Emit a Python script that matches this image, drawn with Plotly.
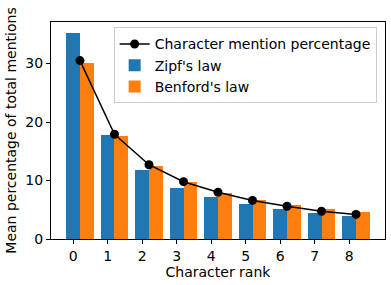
import plotly.graph_objects as go

ranks = [0, 1, 2, 3, 4, 5, 6, 7, 8]
mention_pct = [30.5, 17.9, 12.7, 9.8, 8.0, 6.6, 5.6, 4.75, 4.2]
zipf = [35.3, 17.7, 11.8, 8.8, 7.1, 5.9, 5.05, 4.4, 3.9]
benford = [30.1, 17.6, 12.5, 9.7, 7.9, 6.7, 5.8, 5.1, 4.6]

font = "DejaVu Sans"
fig = go.Figure()
fig.add_trace(go.Bar(x=ranks, y=zipf, width=0.4, offset=-0.2, name="Zipf's law",
                     marker=dict(color="#1f77b4", line=dict(width=0)), legendrank=2))
fig.add_trace(go.Bar(x=ranks, y=benford, width=0.4, offset=0.2, name="Benford's law",
                     marker=dict(color="#ff7f0e", line=dict(width=0)), legendrank=3))
fig.add_trace(go.Scatter(x=[r + 0.2 for r in ranks], y=mention_pct, mode="lines+markers",
                         name="Character mention percentage",
                         line=dict(color="black", width=1.5),
                         marker=dict(color="black", size=9), legendrank=1))

fig.update_layout(
    width=391, height=285,
    margin=dict(l=51, r=6, t=22, b=46),
    plot_bgcolor="white", paper_bgcolor="white",
    font=dict(family=font, size=14, color="black"),
    showlegend=True,
    legend=dict(x=0.975, y=0.975, xanchor="right", yanchor="top",
                bgcolor="rgba(255,255,255,0.8)", bordercolor="#cccccc", borderwidth=1,
                font=dict(size=14), tracegroupgap=0),
    bargap=0,
)
fig.update_xaxes(range=[-0.64, 9.04], tickmode="array", tickvals=ranks,
                 ticktext=[str(r) for r in ranks], automargin=False,
                 showline=True, linecolor="black", linewidth=1, mirror=True,
                 ticks="outside", ticklen=4, tickcolor="black", showgrid=False,
                 zeroline=False, tickfont=dict(size=14),
                 title=dict(text="Character rank", font=dict(size=14), standoff=3))
fig.update_yaxes(range=[0, 37.1], tickvals=[0, 10, 20, 30], automargin=False,
                 showline=True, linecolor="black", linewidth=1, mirror=True,
                 ticks="outside", ticklen=4, tickcolor="black", showgrid=False,
                 zeroline=False, tickfont=dict(size=14),
                 title=dict(text="Mean percentage of total mentions", font=dict(size=14), standoff=5))

fig.write_html("out.html", config={"displayModeBar": False},
               post_script="document.body.style.margin='0';")
